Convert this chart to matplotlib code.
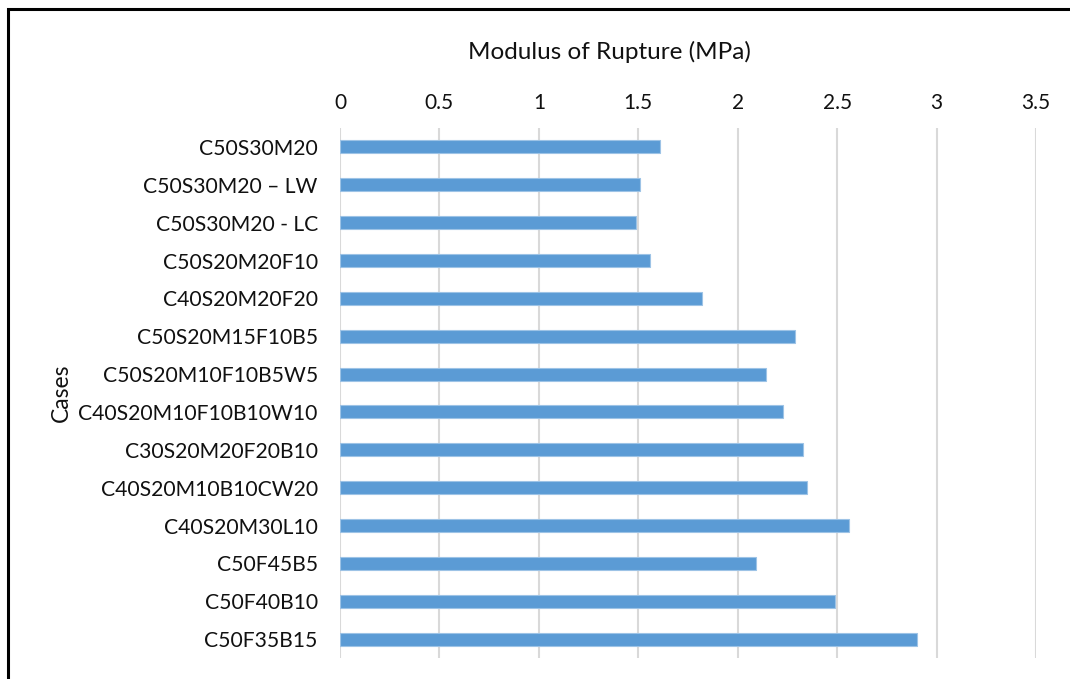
import matplotlib

matplotlib.use("Agg")
import matplotlib.pyplot as plt
from matplotlib.patches import Rectangle

# Mix designs, listed top to bottom
cases = [
    "C50S30M20",
    "C50S30M20 \u2013 LW",
    "C50S30M20 - LC",
    "C50S20M20F10",
    "C40S20M20F20",
    "C50S20M15F10B5",
    "C50S20M10F10B5W5",
    "C40S20M10F10B10W10",
    "C30S20M20F20B10",
    "C40S20M10B10CW20",
    "C40S20M30L10",
    "C50F45B5",
    "C50F40B10",
    "C50F35B15",
]
# Modulus of rupture (MPa)
mor = [1.61, 1.51, 1.49, 1.56, 1.82, 2.29, 2.14, 2.23, 2.33, 2.35, 2.56, 2.09, 2.49, 2.90]
x_ticks = [0, 0.5, 1, 1.5, 2, 2.5, 3, 3.5]
x_tick_labels = ["0", "0.5", "1", "1.5", "2", "2.5", "3", "3.5"]

plt.rcParams["font.family"] = ["Lato", "DejaVu Sans"]

W, H = 1070, 679
fig = plt.figure(figsize=(W / 100, H / 100), dpi=100)
ax = fig.add_axes([340 / W, 1 - 658 / H, (1036 - 340) / W, (658 - 128) / H])

pos = list(range(len(cases)))
ax.barh(pos, mor, height=0.34, color="#5B9BD5", edgecolor="#9DC3E6",
        linewidth=0.8, zorder=3)

ax.set_xlim(0, 3.5)
ax.set_ylim(len(cases) - 0.5, -0.5)
ax.set_xticks(x_ticks)
ax.set_xticklabels(x_tick_labels)
ax.set_yticks(pos)
ax.set_yticklabels(cases)

ax.xaxis.tick_top()
ax.tick_params(axis="x", length=0, pad=11, labelsize=15, colors="#111111")
ax.tick_params(axis="y", length=0, pad=16, labelsize=15.2, colors="#111111")
ax.grid(axis="x", color="#D9D9D9", linewidth=1.5, zorder=0)
for side in ["top", "right", "bottom", "left"]:
    ax.spines[side].set_visible(False)

ax.set_ylabel("Cases", fontsize=16.5, color="#111111", labelpad=5)
fig.text(609 / W, 1 - 52 / H, "Modulus of Rupture (MPa)", ha="center",
         va="center", fontsize=17.5, color="#111111")

# outer frame around the chart
fig.patches.append(Rectangle((8 / W, -0.05), 1.1, 1 - 9 / H + 0.05,
                             transform=fig.transFigure, fill=False,
                             edgecolor="black", linewidth=2.2))

fig.savefig("out.png", dpi=100, facecolor="white")
